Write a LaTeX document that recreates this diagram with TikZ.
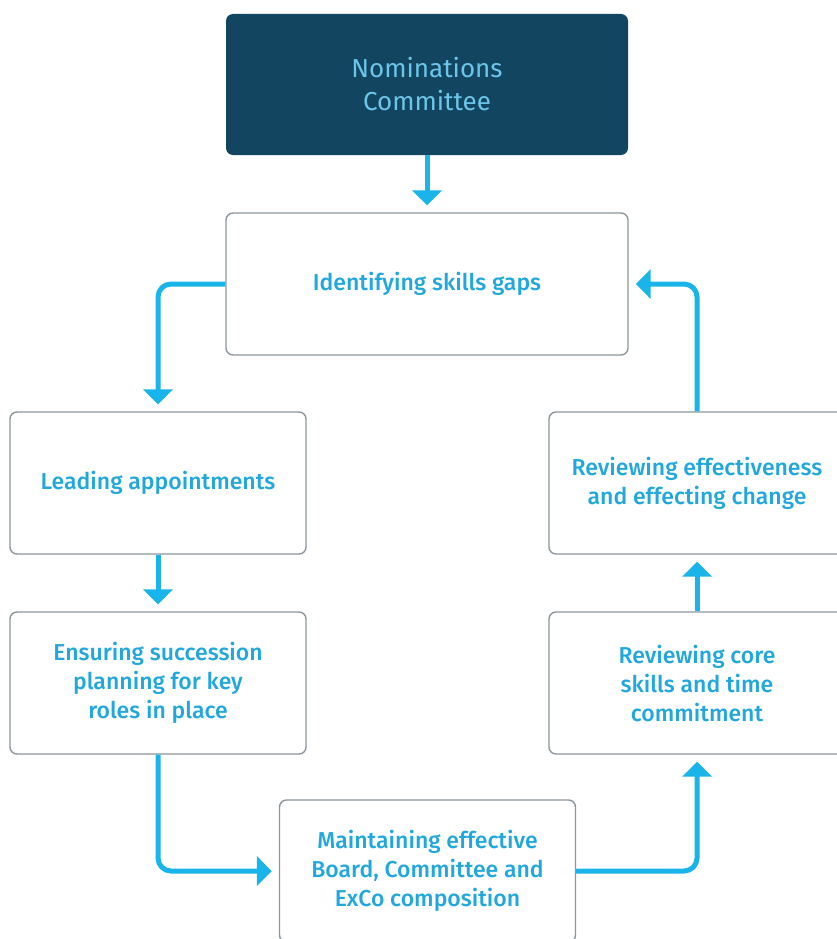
\documentclass[tikz,border=0pt]{standalone}
\usepackage{fontspec}
\setmainfont{Fira Sans}[BoldFont={Fira Sans Medium}]
\usetikzlibrary{arrows.meta}
\definecolor{navy}{HTML}{124560}
\definecolor{headtext}{HTML}{6DC5EA}
\definecolor{skyline}{HTML}{19B5EA}
\definecolor{stepblue}{HTML}{20A7DE}
\definecolor{edgegrey}{HTML}{8C979D}
\begin{document}
\begin{tikzpicture}[x=1pt,y=-1pt,
    headbox/.style={fill=navy,rounded corners=7pt,minimum width=402pt,
      minimum height=141pt,align=center,text=headtext,
      font=\fontsize{26}{33}\selectfont},
    stepbox/.style={draw=edgegrey,line width=1.4pt,rounded corners=7pt,
      fill=white,minimum width=296pt,minimum height=142pt,align=center,
      text=stepblue,font=\fontsize{23}{29}\selectfont\bfseries},
    flow/.style={draw=skyline,line width=5pt,rounded corners=13pt,
      -{Triangle[width=29pt,length=15pt]},shorten >=7pt}]
  \useasboundingbox (0,0) rectangle (837,939);
  \clip (0,0) rectangle (837,939);
  \node[headbox] (nc) at (427,84.5) {Nominations\\Committee};
  \node[stepbox,minimum width=402pt] (gaps) at (427,284) {Identifying skills gaps};
  \node[stepbox] (lead) at (158,483) {Leading appointments};
  \node[stepbox] (succ) at (158,683) {Ensuring succession\\planning for key\\roles in place};
  \node[stepbox] (comp) at (427.5,871) {Maintaining effective\\Board, Committee and\\ExCo composition};
  \node[stepbox] (core) at (697,683) {Reviewing core\\skills and time\\commitment};
  \node[stepbox] (rev) at (697,483) {Reviewing effectiveness\\and effecting change};
  \begin{scope}
    \draw[flow] (nc) -- (gaps);
    \draw[flow] (gaps.west) -| (lead.north);
    \draw[flow] (lead) -- (succ);
    \draw[flow] (succ.south) |- (comp.west);
    \draw[flow] (comp.east) -| (core.south);
    \draw[flow] (core) -- (rev);
    \draw[flow] (rev.north) |- (gaps.east);
  \end{scope}
\end{tikzpicture}
\end{document}
